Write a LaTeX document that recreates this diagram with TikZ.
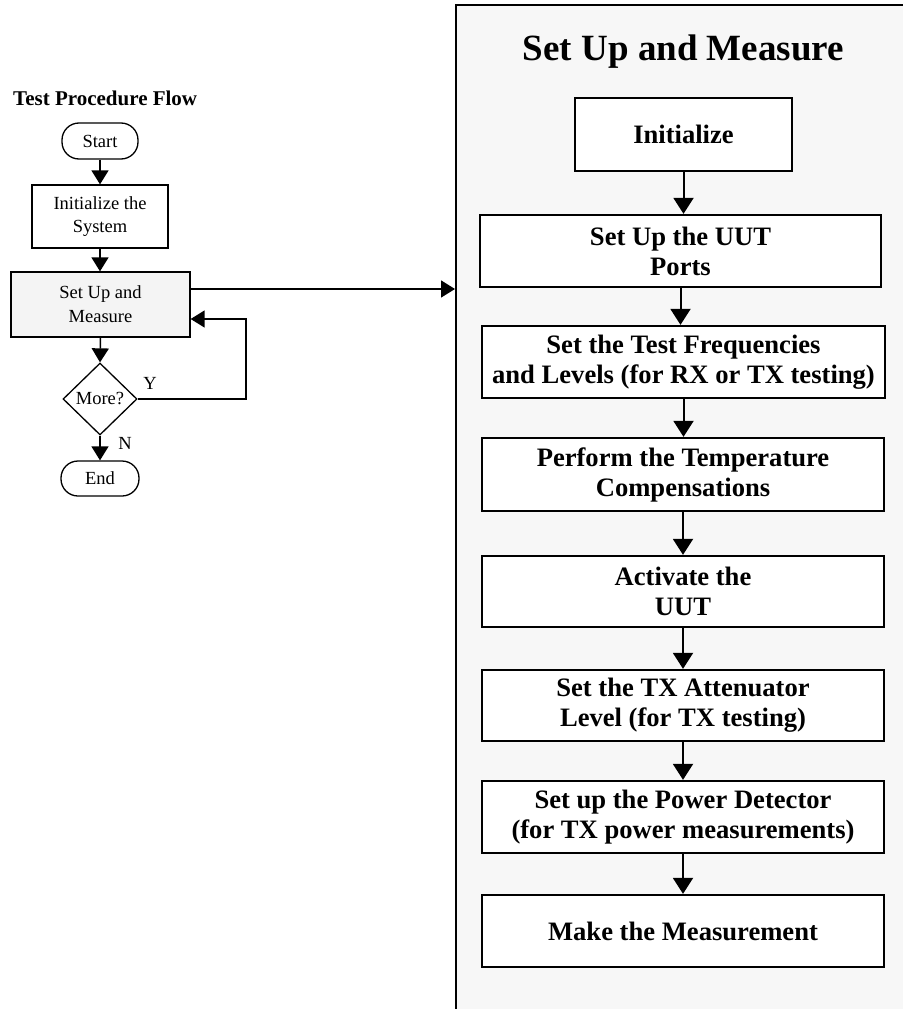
\documentclass[tikz,border=0pt]{standalone}
\usepackage{fontspec}
\setmainfont{Liberation Serif}
\usetikzlibrary{shapes.geometric,arrows.meta}
\definecolor{panelgray}{HTML}{F7F7F7}
\definecolor{boxgray}{HTML}{F4F4F4}
\begin{document}
\begin{tikzpicture}[x=1pt,y=-1pt,
  lbox/.style={draw,line width=1.3pt,inner sep=0pt,align=center,font=\fontsize{18.5}{23.7}\selectfont},
  lterm/.style={lbox,rounded corners=17pt,minimum width=76pt,minimum height=36pt},
  ltxt/.style={inner sep=0pt,font=\fontsize{18.5}{23.7}\selectfont},
  larr/.style={line width=1.5pt,-{Triangle[width=17pt,length=14pt]}},
  rbox/.style={draw,line width=2.3pt,fill=white,inner sep=0pt,align=center,minimum height=72pt,font=\fontsize{26.6}{30}\selectfont\bfseries},
  rarr/.style={line width=2pt,-{Triangle[width=20pt,length=16pt]}},
]
\useasboundingbox (0,0) rectangle (902,1009);
% right panel
\node[draw,line width=2pt,fill=panelgray,anchor=north west,minimum width=470pt,minimum height=1030pt,inner sep=0pt] (panel) at (455,4) {};
\node[anchor=base,inner sep=0pt,font=\fontsize{37}{40}\selectfont\bfseries] (ptitle) at (683.5,60) {Set Up and Measure};

\node[rbox,minimum width=217pt,minimum height=73pt] (b1) at (683.5,134.5) {Initialize};
\node[rbox,minimum width=401pt] (b2) at (680.5,251) {Set Up the UUT\\Ports};
\node[rbox,minimum width=403pt] (b3) at (683.5,362) {Set the Test Frequencies\\and Levels (for RX or TX testing)};
\node[rbox,minimum width=402pt,minimum height=73pt] (b4) at (683,474.5) {Perform the Temperature\\Compensations};
\node[rbox,minimum width=402pt,minimum height=71pt] (b5) at (683,591.5) {Activate the\\UUT};
\node[rbox,minimum width=402pt,minimum height=71pt] (b6) at (683,705.5) {Set the TX Attenuator\\Level (for TX testing)};
\node[rbox,minimum width=402pt] (b7) at (683,817) {Set up the Power Detector\\(for TX power measurements)};
\node[rbox,minimum width=402pt] (b8) at (683,931) {Make the Measurement};

\draw[rarr] (b1.south) -- (b1.south |- b2.north);
\draw[rarr] (b2.south) -- (b2.south |- b3.north);
\draw[rarr] (b3.south) -- (b3.south |- b4.north);
\draw[rarr] (b4.south) -- (b4.south |- b5.north);
\draw[rarr] (b5.south) -- (b5.south |- b6.north);
\draw[rarr] (b6.south) -- (b6.south |- b7.north);
\draw[rarr] (b7.south) -- (b7.south |- b8.north);

% left flow
\node[anchor=base west,inner sep=0pt,font=\fontsize{21}{24}\selectfont\bfseries] (ltitle) at (13,105) {Test Procedure Flow};
\node[lterm] (start) at (100,141) {Start};
\node[lbox,minimum width=136pt,minimum height=63pt] (init) at (100,216.5) {Initialize the\\System};
\node[lbox,fill=boxgray,minimum width=179pt,minimum height=65pt] (setup) at (100.5,304.5) {Set Up and\\Measure};
\node[lbox,diamond,aspect=1,minimum width=74pt,minimum height=72pt] (more) at (100,399) {More?};
\node[lterm,minimum width=78pt,minimum height=35pt] (end) at (100,478.5) {End};
\node[ltxt] (ylab) at (150,383) {Y};
\node[ltxt] (nlab) at (125,443) {N};

\draw[larr] (start.south) -- (init.north);
\draw[larr] (init.south) -- (init.south |- setup.north);
\draw[larr] (setup.south) -- (more.north);
\draw[larr] (more.south) -- (end.north);
\draw[larr] (more.east) -| (246,319) -- (setup.east |- 246,319);
\draw[larr] (setup.east |- 0,289) -- (panel.west |- 0,289);
\end{tikzpicture}
\end{document}
